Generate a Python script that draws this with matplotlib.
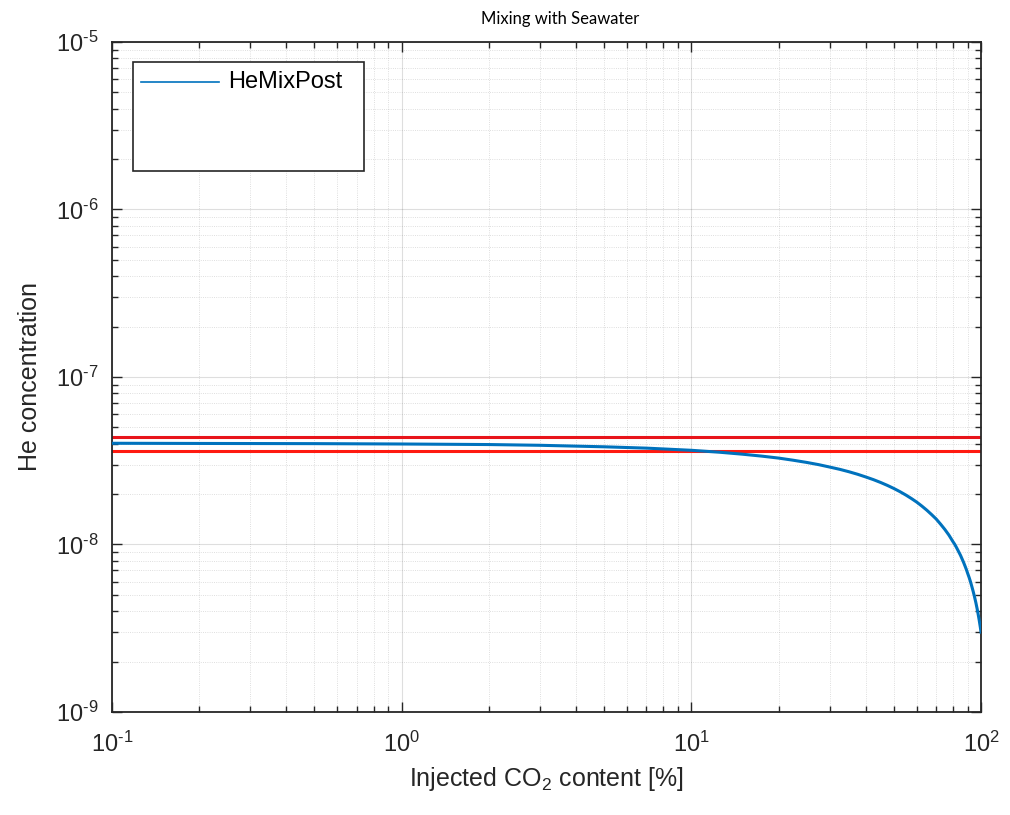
import numpy as np
import matplotlib.pyplot as plt
from matplotlib.patches import Rectangle
from matplotlib.ticker import FixedLocator, NullFormatter, FuncFormatter

plt.rcParams['font.family'] = ['Liberation Sans', 'DejaVu Sans']
plt.rcParams['mathtext.fontset'] = 'custom'
plt.rcParams['mathtext.rm'] = 'Liberation Sans'
plt.rcParams['mathtext.it'] = 'Liberation Sans:italic'

# injected CO2 content [%] and mixed He concentration
co2_pct = [0.1, 0.2, 0.5, 1, 2, 3, 5, 7, 10, 12.5, 15, 17.5, 20, 22.5, 25,
           27.5, 30, 32.5, 35, 37.5, 40, 42.5, 45, 47.5, 50, 52.5, 55, 57.5,
           60, 62.5, 65, 67.5, 70, 72.5, 75, 77.5, 80, 81, 82, 83, 84, 85,
           86, 87, 88, 89, 90, 91, 92, 93, 94, 95, 96, 96.5, 97, 97.5, 98,
           98.5, 99, 99.5, 100]
he_mix = [4.02e-8, 4.01e-8, 4.00e-8, 3.98e-8, 3.95e-8, 3.91e-8, 3.83e-8,
          3.76e-8, 3.65e-8, 3.555e-8, 3.46e-8, 3.369e-8, 3.28e-8, 3.183e-8,
          3.09e-8, 2.997e-8, 2.90e-8, 2.811e-8, 2.718e-8, 2.625e-8, 2.53e-8,
          2.439e-8, 2.346e-8, 2.253e-8, 2.16e-8, 2.067e-8, 1.974e-8,
          1.881e-8, 1.79e-8, 1.695e-8, 1.602e-8, 1.509e-8, 1.42e-8,
          1.323e-8, 1.23e-8, 1.137e-8, 1.04e-8, 1.007e-8, 9.70e-9, 9.32e-9,
          8.95e-9, 8.6e-9, 8.21e-9, 7.84e-9, 7.46e-9, 7.09e-9, 6.7e-9,
          6.35e-9, 5.98e-9, 5.6e-9, 5.23e-9, 4.86e-9, 4.49e-9, 4.30e-9,
          4.12e-9, 3.93e-9, 3.74e-9, 3.56e-9, 3.37e-9, 3.19e-9, 3.0e-9]

# bounds of the reference range
he_upper = 4.36e-8
he_lower = 3.61e-8

x_decades = [0.1, 1, 10, 100]
y_decades = [1e-9, 1e-8, 1e-7, 1e-6, 1e-5]

dark = '#262626'
blue = '#0072BD'


def pow10(v, pos):
    e = int(round(np.log10(v)))
    if e < 0:
        return r'$10^{\text{-}%d}$' % -e
    return r'$10^{%d}$' % e


def minors(decades):
    return [d * k for d in decades[:-1] for k in range(2, 10)]


fig = plt.figure(figsize=(10.1, 8.15), dpi=100)
ax = fig.add_axes([0.1109, 0.1264, 0.8604, 0.8221])

ax.plot(co2_pct, he_mix, color=blue, lw=2.2, zorder=3)
ax.axhline(he_upper, color='#e8141a', lw=2.2, zorder=2)
ax.axhline(he_lower, color='#ff1a10', lw=2.2, zorder=2)

ax.set_xscale('log')
ax.set_yscale('log')
ax.set_xlim(x_decades[0], x_decades[-1])
ax.set_ylim(y_decades[0], y_decades[-1])

for axis, dec in ((ax.xaxis, x_decades), (ax.yaxis, y_decades)):
    axis.set_major_locator(FixedLocator(dec))
    axis.set_major_formatter(FuncFormatter(pow10))
    axis.set_minor_locator(FixedLocator(minors(dec)))
    axis.set_minor_formatter(NullFormatter())

ax.grid(True, which='major', color=dark, alpha=0.15, lw=0.8)
ax.grid(True, which='minor', color=dark, alpha=0.2, lw=0.6, linestyle=':')
ax.set_axisbelow(True)

ax.tick_params(which='both', direction='in', top=True, right=True,
               colors=dark, width=1.0)
ax.tick_params(which='major', length=7, labelsize=17)
ax.tick_params(axis='x', which='major', pad=14)
ax.tick_params(axis='y', which='major', pad=10)
ax.tick_params(which='minor', length=4)
for s in ax.spines.values():
    s.set_color(dark)
    s.set_linewidth(1.3)

ax.set_xlabel('Injected CO$_2$ content [%]', fontsize=18, color=dark, labelpad=6)
ax.set_ylabel('He concentration', fontsize=18, color=dark, labelpad=10)

fig.text(0.555, 0.986, 'Mixing with Seawater', fontsize=12, family='Lato',
         ha='center', va='top', color='black')

# legend box
ax.add_patch(Rectangle((0.024, 0.8075), 0.266, 0.1625, transform=ax.transAxes,
                       facecolor='white', edgecolor=dark, lw=1.2, zorder=5))
ax.plot([0.033, 0.123], [0.94, 0.94], transform=ax.transAxes, color=blue,
        lw=1.2, zorder=6)
ax.text(0.1335, 0.94, 'HeMixPost', transform=ax.transAxes, fontsize=17,
        va='center', ha='left', color='black', zorder=6)

fig.savefig('out.png', dpi=100)
